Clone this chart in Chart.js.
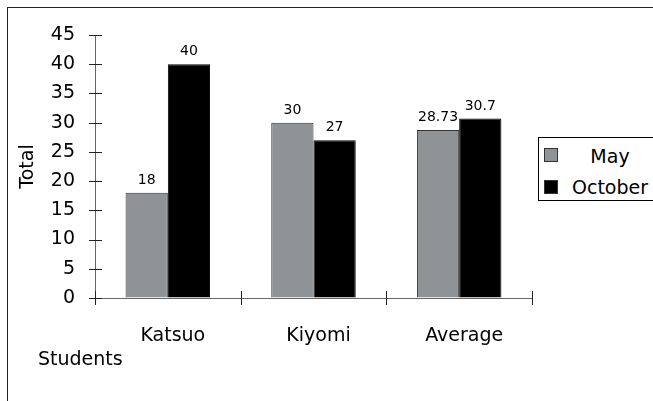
<!DOCTYPE html>
<html>
<head>
<meta charset="utf-8">
<script src="https://cdn.jsdelivr.net/npm/chart.js@4/dist/chart.umd.min.js"></script>
<style>
html,body{margin:0;padding:0;background:#fff;overflow:hidden;}
body{width:653px;height:401px;position:relative;font-family:"DejaVu Sans",sans-serif;}
#frame{position:absolute;left:7px;top:7px;width:700px;height:500px;border:1px solid #222;}
#chartBox{position:absolute;left:0;top:0;width:653px;height:401px;}
#legend{position:absolute;left:538px;top:137px;width:130px;height:62px;border:1px solid #000;background:#fff;}
#legend .box{position:absolute;left:5px;width:14px;height:14px;box-sizing:border-box;border:1px solid #333;}
#legend .txt{position:absolute;left:33px;width:76px;text-align:center;font-size:19px;line-height:22px;color:#000;white-space:nowrap;}
</style>
</head>
<body>
<div id="frame"></div>
<div id="chartBox"><canvas id="chart" width="653" height="401"></canvas></div>
<div id="legend"></div>
<script>
// 数据：学生、两个月份的成绩
const students = ["Katsuo", "Kiyomi", "Average"];
const mayValues = [18, 30, 28.73];
const octoberValues = [40, 27, 30.7];
const seriesNames = ["May", "October"];
const yTicks = [0, 5, 10, 15, 20, 25, 30, 35, 40, 45];

const seriesColors = ["#8f9395", "#000000"];
const seriesBorders = ["#333333", "#000000"];

// 画十字形刻度线、柱顶数值和 "Students" 标题
const extrasPlugin = {
    id: "extras",
    afterDatasetsDraw(chart){
        const ctx = chart.ctx;
        ctx.save();
        ctx.fillStyle = "#000";
        ctx.font = "14px 'DejaVu Sans'";
        ctx.textAlign = "center";
        ctx.textBaseline = "alphabetic";
        chart.data.datasets.forEach((ds, i) => {
            const meta = chart.getDatasetMeta(i);
            meta.data.forEach((bar, j) => {
                ctx.fillText(String(ds.data[j]), bar.x, bar.y - 9);
            });
        });
        ctx.restore();
    },
    afterDraw(chart){
        const ctx = chart.ctx;
        const x = chart.scales.x;
        const y = chart.scales.y;
        const area = chart.chartArea;
        ctx.save();
        ctx.strokeStyle = "#222";
        ctx.lineWidth = 1;
        ctx.beginPath();
        yTicks.forEach(v => {
            const py = Math.round(y.getPixelForValue(v)) + 0.5;
            ctx.moveTo(area.left - 6, py);
            ctx.lineTo(area.left + 7, py);
        });
        for(let i = 0; i <= students.length; i++){
            const px = Math.round(x.getPixelForValue(i - 0.5)) + 0.5;
            ctx.moveTo(px, area.bottom - 7);
            ctx.lineTo(px, area.bottom + 7);
        }
        ctx.stroke();

        ctx.fillStyle = "#000";
        ctx.font = "19px 'DejaVu Sans'";
        ctx.textAlign = "left";
        ctx.textBaseline = "alphabetic";
        ctx.fillText("Students", 38, 365);
        ctx.restore();
    }
};

const chart = new Chart(document.getElementById("chart"), {
    type: "bar",
    data: {
        labels: students,
        datasets: [
            {
                label: seriesNames[0],
                data: mayValues,
                backgroundColor: seriesColors[0],
                borderColor: seriesBorders[0],
                borderWidth: 1,
                categoryPercentage: 0.58,
                barPercentage: 1.0
            },
            {
                label: seriesNames[1],
                data: octoberValues,
                backgroundColor: seriesColors[1],
                borderColor: seriesBorders[1],
                borderWidth: 1,
                categoryPercentage: 0.58,
                barPercentage: 1.0
            }
        ]
    },
    options: {
        responsive: false,
        animation: false,
        layout: {
            padding: { left: 0, right: 121, top: 35, bottom: 0 }
        },
        plugins: {
            legend: { display: false },
            tooltip: { enabled: false }
        },
        scales: {
            x: {
                grid: { display: true, drawOnChartArea: false, drawTicks: false },
                border: { display: true, color: "#666", width: 1 },
                ticks: {
                    color: "#000",
                    font: { family: "DejaVu Sans", size: 19 },
                    padding: 27,
                    labelOffset: 5,
                    maxRotation: 0
                },
                afterFit(scale){ scale.height = 103; }
            },
            y: {
                min: 0,
                max: 45,
                grid: { display: true, drawOnChartArea: false, drawTicks: false },
                border: { display: true, color: "#666", width: 1 },
                ticks: {
                    stepSize: 5,
                    color: "#000",
                    font: { family: "DejaVu Sans", size: 19 },
                    padding: 20
                },
                title: {
                    display: true,
                    text: "Total",
                    color: "#000",
                    font: { family: "DejaVu Sans", size: 19 },
                    padding: { top: 17, bottom: 0 }
                },
                afterFit(scale){ scale.width = 95; }
            }
        }
    },
    plugins: [extrasPlugin]
});

// 图例：按数据集生成 HTML 图例
function buildLegend(){
    const legend = document.getElementById("legend");
    const tops = [10, 42];
    const textTops = [7, 38];
    chart.data.datasets.forEach((ds, i) => {
        const box = document.createElement("div");
        box.className = "box";
        box.style.top = tops[i] + "px";
        box.style.background = ds.backgroundColor;
        legend.appendChild(box);

        const txt = document.createElement("div");
        txt.className = "txt";
        txt.style.top = textTops[i] + "px";
        txt.textContent = ds.label;
        legend.appendChild(txt);
    });
}

buildLegend();
</script>
</body>
</html>
